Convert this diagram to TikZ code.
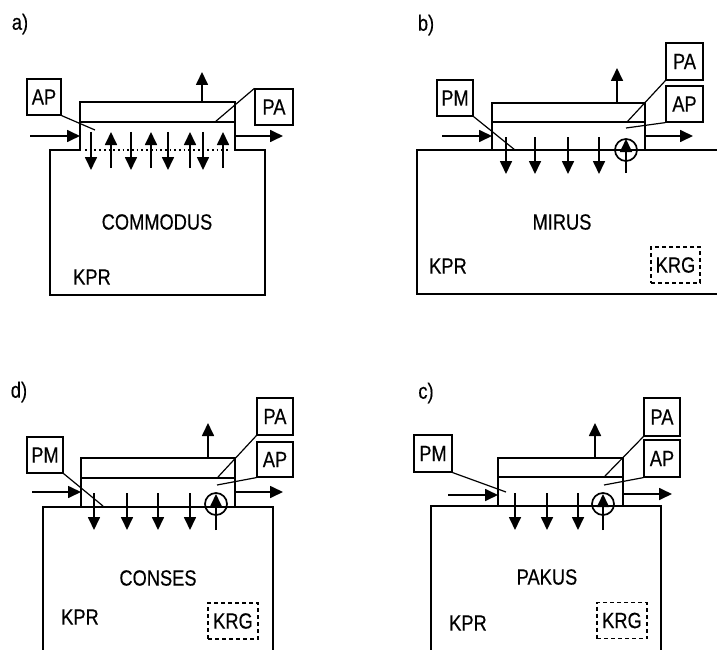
\documentclass[tikz,border=0pt]{standalone}
\usepackage{fontspec}
\setmainfont{Liberation Sans}[FakeStretch=0.83,FakeBold=0.4]
\usetikzlibrary{arrows.meta}
\begin{document}
\begin{tikzpicture}[x=1pt,y=-1pt,
  wall/.style={line width=1.7pt},
  fnt/.style={font=\fontsize{22}{24}\selectfont},
  txt/.style={fnt,inner sep=0pt},
  lbl/.style={draw,fnt,line width=1.2pt,inner sep=0pt,minimum width=36pt,minimum height=36pt},
  krgbox/.style={draw,fnt,line width=1.3pt,dash pattern=on 4pt off 3pt,inner sep=0pt,minimum width=50pt,minimum height=36pt},
  flow/.style={line width=1.7pt,-{Triangle[length=13pt,width=12pt]}},
  leader/.style={line width=1.2pt},
  pump/.style={circle,draw,line width=1.7pt,minimum size=22pt,inner sep=0pt}
]
\useasboundingbox (0,0) rectangle (717,650);

% ================= panel a =================
\node[txt] (alab) at (20,24) {a)};
\draw[wall] (50,150) -- (80,150) -- (80,102) -- (235,102) -- (235,150) -- (265,150) -- (265,295) -- (50,295) -- cycle;
\draw[wall] (80,122) -- (235,122);
\draw[line width=1.7pt,dash pattern=on 1.7pt off 3pt] (85,150) -- (230,150);
\coordinate (aup0) at (202,102); \coordinate (aup1) at (202,72);
\draw[flow] (aup0) -- (aup1);
\coordinate (ain0) at (30,136); \coordinate (ain1) at (80,136);
\draw[flow] (ain0) -- (ain1);
\coordinate (aout0) at (235,136); \coordinate (aout1) at (283,136);
\draw[flow] (aout0) -- (aout1);
\foreach \x in {91,131,168,203} {\draw[flow] (\x,132) -- (\x,170);}
\foreach \x in {111,151,190,223} {\draw[flow] (\x,168) -- (\x,132);}
\node[lbl,minimum width=34pt] (aAP) at (44,97) {AP};
\coordinate (aAPe) at (95,130);
\draw[leader] (aAP.south east) -- (aAPe);
\node[lbl,minimum width=38pt] (aPA) at (274,107) {PA};
\coordinate (aPAe) at (215,122);
\draw[leader] (aPA.north west) -- (aPAe);
\node[txt] (acom) at (157,222) {COMMODUS};
\node[txt] (akpr) at (92,277) {KPR};

% ================= panel b =================
\node[txt] (blab) at (426,25) {b)};
\draw[wall] (717,150) -- (417,150) -- (417,294) -- (717,294);
\draw[wall] (492,150) -- (492,103) -- (645,103) -- (645,150);
\draw[wall] (492,122) -- (645,122);
\coordinate (bup0) at (617,103); \coordinate (bup1) at (617,68);
\draw[flow] (bup0) -- (bup1);
\coordinate (bin0) at (442,136); \coordinate (bin1) at (492,136);
\draw[flow] (bin0) -- (bin1);
\coordinate (bout0) at (645,136); \coordinate (bout1) at (693,136);
\draw[flow] (bout0) -- (bout1);
\foreach \x in {506,535,568,599} {\draw[flow] (\x,137) -- (\x,174);}
\node[pump] (bpump) at (626,150) {};
\coordinate (bp0) at (626,173); \coordinate (bp1) at (626,139);
\draw[flow] (bp0) -- (bp1);
\node[lbl] (bPM) at (455,98) {PM};
\coordinate (bPMe) at (515,150);
\draw[leader] (bPM.south east) -- (bPMe);
\node[lbl,minimum width=37pt,minimum height=37pt] (bPA) at (684.5,61.5) {PA};
\coordinate (bPAe) at (627,122);
\draw[leader] (bPA.south west) -- (bPAe);
\node[lbl,minimum width=37pt] (bAP) at (684.5,104) {AP};
\coordinate (bAPe) at (626,128);
\draw[leader] (bAP.south west) -- (bAPe);
\node[txt] (bmir) at (562,222) {MIRUS};
\node[txt] (bkpr) at (448,266) {KPR};
\node[krgbox,minimum width=49pt] (bkrg) at (675.5,265) {KRG};

% ================= panel d =================
\node[txt] (dlab) at (19,392) {d)};
\draw[wall] (43,650) -- (43,507) -- (273,507) -- (273,650);
\draw[wall] (81,507) -- (81,458) -- (235,458) -- (235,507);
\draw[wall] (81,478) -- (235,478);
\coordinate (dup0) at (208,458); \coordinate (dup1) at (208,423);
\draw[flow] (dup0) -- (dup1);
\coordinate (din0) at (32,492); \coordinate (din1) at (81,492);
\draw[flow] (din0) -- (din1);
\coordinate (dout0) at (235,492); \coordinate (dout1) at (283,492);
\draw[flow] (dout0) -- (dout1);
\foreach \x in {94,127,158,190} {\draw[flow] (\x,493) -- (\x,530);}
\node[pump] (dpump) at (216,504) {};
\coordinate (dp0) at (216,530); \coordinate (dp1) at (216,494);
\draw[flow] (dp0) -- (dp1);
\node[lbl] (dPM) at (45,455) {PM};
\coordinate (dPMe) at (103,506);
\draw[leader] (dPM.south east) -- (dPMe);
\node[lbl,minimum height=37pt] (dPA) at (275,416.5) {PA};
\coordinate (dPAe) at (218,477);
\draw[leader] (dPA.south west) -- (dPAe);
\node[lbl,minimum height=35pt] (dAP) at (275,459.5) {AP};
\coordinate (dAPe) at (217,485);
\draw[leader] (dAP.south west) -- (dAPe);
\node[txt] (dcon) at (158,578) {CONSES};
\node[txt] (dkpr) at (80,617) {KPR};
\node[krgbox] (dkrg) at (233,621) {KRG};

% ================= panel c =================
\node[txt] (clab) at (426,393) {c)};
\draw[wall] (431,650) -- (431,506) -- (661,506) -- (661,650);
\draw[wall] (498,506) -- (498,458) -- (623,458) -- (623,506);
\draw[wall] (498,477) -- (623,477);
\coordinate (cup0) at (595,458); \coordinate (cup1) at (595,423);
\draw[flow] (cup0) -- (cup1);
\coordinate (cin0) at (448,495); \coordinate (cin1) at (498,495);
\draw[flow] (cin0) -- (cin1);
\coordinate (cout0) at (623,494); \coordinate (cout1) at (672,494);
\draw[flow] (cout0) -- (cout1);
\foreach \x in {515,547,578} {\draw[flow] (\x,493) -- (\x,530);}
\node[pump] (cpump) at (603,504) {};
\coordinate (cp0) at (603,530); \coordinate (cp1) at (603,494);
\draw[flow] (cp0) -- (cp1);
\node[lbl,minimum width=38pt,minimum height=37pt] (cPM) at (433,453.5) {PM};
\coordinate (cPMe) at (506,492);
\draw[leader] (cPM.south east) -- (cPMe);
\node[lbl,minimum height=38pt] (cPA) at (662,417) {PA};
\coordinate (cPAe) at (605,476);
\draw[leader] (cPA.south west) -- (cPAe);
\node[lbl,minimum height=37pt] (cAP) at (662,458.5) {AP};
\coordinate (cAPe) at (604,485);
\draw[leader] (cAP.south west) -- (cAPe);
\node[txt] (cpak) at (547,577) {PAKUS};
\node[txt] (ckpr) at (468,623) {KPR};
\node[krgbox] (ckrg) at (622,620.5) {KRG};
\end{tikzpicture}
\end{document}
